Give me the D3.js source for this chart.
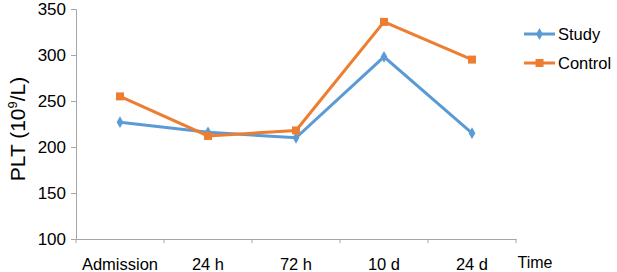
<!DOCTYPE html>
<html>
<head>
<meta charset="utf-8">
<script src="https://cdn.jsdelivr.net/npm/d3@7"></script>
<style>
  body { margin: 0; background: #fff; }
  text { font-family: "Liberation Sans", Arial, sans-serif; }
</style>
</head>
<body>
<div id="chart"></div>
<script>
// dữ liệu
const timepoints = ["Admission", "24 h", "72 h", "10 d", "24 d"];
const studyValues = [227, 216, 210, 298, 215];
const controlValues = [255, 212, 218, 336, 295];
const yTicks = [100, 150, 200, 250, 300, 350];

const seriesList = [
  { name: "Study", values: studyValues, color: "#5b9bd5", marker: "diamond" },
  { name: "Control", values: controlValues, color: "#ed7d31", marker: "square" }
];

const W = 617, H = 272;
const margin = { top: 9, right: 101, bottom: 33, left: 76 };
const width = W - margin.left - margin.right,
      height = H - margin.top - margin.bottom;

const svg = d3.select("#chart").append("svg")
  .attr("width", W).attr("height", H);
const g = svg.append("g").attr("transform", `translate(${margin.left},${margin.top})`);

const x = d3.scaleBand().domain(timepoints).range([0, width]);
const y = d3.scaleLinear().domain([100, 350]).range([height, 0]);

const axisColor = "#a6a6a6";

// trục Y
const gy = g.append("g")
  .call(d3.axisLeft(y).tickValues(yTicks).tickSize(5).tickPadding(5));
gy.select(".domain").attr("stroke", axisColor);
gy.selectAll(".tick line").attr("stroke", axisColor);
gy.selectAll(".tick text").attr("fill", "#000").style("font-size", "17px");

// trục X: vạch ở ranh giới các nhóm
const gx = g.append("g").attr("transform", `translate(0,${height})`)
  .call(d3.axisBottom(x).tickSize(0).tickPadding(19));
gx.select(".domain").attr("stroke", axisColor);
gx.selectAll(".tick text").attr("fill", "#000").style("font-size", "16.5px");
const bounds = timepoints.map(d => x(d)).concat([width]);
gx.selectAll("line.sep").data(bounds).enter().append("line")
  .attr("class", "sep")
  .attr("x1", d => d).attr("x2", d => d)
  .attr("y1", 0).attr("y2", 4)
  .attr("stroke", axisColor);

// nhãn "Time"
g.append("text")
  .attr("x", width + 19).attr("y", height + 29)
  .attr("text-anchor", "middle")
  .style("font-size", "16px")
  .text("Time");

// nhãn trục Y
const yTitle = svg.append("text")
  .attr("transform", `translate(25,129) rotate(-90)`)
  .attr("text-anchor", "middle")
  .style("font-size", "21px");
yTitle.append("tspan").text("PLT (10");
yTitle.append("tspan").attr("dy", -8).style("font-size", "13px").text("9");
yTitle.append("tspan").attr("dy", 8).text("/L)");

const line = d3.line()
  .x((d, i) => x(timepoints[i]) + x.bandwidth() / 2)
  .y(d => y(d));

const symDiamond = d3.symbol().type(d3.symbolDiamond).size(40);
const symSquare = d3.symbol().type(d3.symbolSquare).size(64);

seriesList.forEach(s => {
  g.append("path")
    .datum(s.values)
    .attr("fill", "none")
    .attr("stroke", s.color)
    .attr("stroke-width", 3)
    .attr("d", line);
  g.selectAll(null).data(s.values).enter().append("path")
    .attr("transform", (d, i) => `translate(${x(timepoints[i]) + x.bandwidth() / 2},${y(d)})`)
    .attr("d", s.marker === "diamond" ? symDiamond() : symSquare())
    .attr("fill", s.color);
});

// chú giải
const legend = svg.append("g").attr("transform", "translate(524,34)");
seriesList.forEach((s, i) => {
  const row = legend.append("g").attr("transform", `translate(0,${i * 29})`);
  row.append("line")
    .attr("x1", 0).attr("x2", 31).attr("y1", 0).attr("y2", 0)
    .attr("stroke", s.color).attr("stroke-width", 3);
  row.append("path")
    .attr("transform", "translate(15.5,0)")
    .attr("d", s.marker === "diamond" ? symDiamond() : symSquare())
    .attr("fill", s.color);
  row.append("text")
    .attr("x", 34).attr("y", 0).attr("dy", "0.35em")
    .style("font-size", "16.5px")
    .text(s.name);
});
</script>
</body>
</html>
